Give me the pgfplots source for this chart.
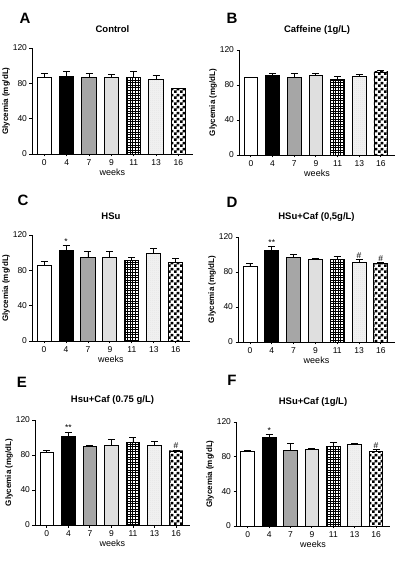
\documentclass[border=0pt]{standalone}
\usepackage{fontspec}
\setmainfont{Liberation Sans}
\usepackage{pgfplots}
\usepackage{pgfplotstable}
\pgfplotsset{compat=1.18}
\usetikzlibrary{patterns}

\pgfdeclarepatternformonly{finecheck}{\pgfqpoint{0pt}{0pt}}{\pgfqpoint{6pt}{6pt}}{\pgfqpoint{6pt}{6pt}}{%
  \pgfpathrectangle{\pgfqpoint{0pt}{0pt}}{\pgfqpoint{3pt}{3pt}}%
  \pgfpathrectangle{\pgfqpoint{3pt}{3pt}}{\pgfqpoint{3pt}{3pt}}%
  \pgfusepath{fill}}
\pgfdeclarepatternformonly{finegrid}{\pgfqpoint{-1pt}{-1pt}}{\pgfqpoint{3.5pt}{3.5pt}}{\pgfqpoint{2.6pt}{2.6pt}}{%
  \pgfsetlinewidth{0.6pt}%
  \pgfpathmoveto{\pgfqpoint{-0.5pt}{0pt}}\pgfpathlineto{\pgfqpoint{3.1pt}{0pt}}%
  \pgfpathmoveto{\pgfqpoint{0pt}{-0.5pt}}\pgfpathlineto{\pgfqpoint{0pt}{3.1pt}}%
  \pgfusepath{stroke}}
\pgfdeclarepatternformonly{finedots}{\pgfqpoint{-0.5pt}{-0.5pt}}{\pgfqpoint{2.5pt}{2.5pt}}{\pgfqpoint{2pt}{2pt}}{%
  \pgfpathcircle{\pgfqpoint{0pt}{0pt}}{0.45pt}%
  \pgfpathcircle{\pgfqpoint{1pt}{1pt}}{0.45pt}%
  \pgfusepath{fill}}

% columns: x (category index), y (mean), e (upper SEM)
\pgfplotstableread{
x y e
0 86.9 4.5
1 87.6 5.7
2 86.1 4.6
3 86.9 2.6
4 86.5 6.8
5 84.6 4.5
6 73.9 0.8
}\tblA
\pgfplotstableread{
x y e
0 88.4 0.5
1 90.7 3.0
2 88.4 4.6
3 91.0 2.3
4 86.1 3.4
5 89.5 2.3
6 94.9 1.9
}\tblB
\pgfplotstableread{
x y e
0 85.7 4.1
1 102.6 5.7
2 94.3 6.8
3 95.1 6.8
4 91.3 3.4
5 98.9 5.7
6 89.4 4.2
}\tblC
\pgfplotstableread{
x y e
0 86.5 3.0
1 104.8 4.5
2 96.4 3.4
3 94.1 1.1
4 94.1 4.2
5 91.4 3.0
6 89.5 1.2
}\tblD
\pgfplotstableread{
x y e
0 82.7 3.0
1 101.7 4.6
2 89.9 1.1
3 90.7 6.8
4 94.5 5.7
5 91.0 4.6
6 84.6 1.1
}\tblE
\pgfplotstableread{
x y e
0 85.7 1.9
1 102.1 3.8
2 86.9 8.7
3 88.4 1.5
4 92.2 3.8
5 94.5 0.7
6 86.5 1.9
}\tblF

\pgfplotsset{
  b0/.style={fill=white, restrict x to domain=-0.2:0.2},
  b1/.style={fill=black, restrict x to domain=0.8:1.2},
  b2/.style={fill=gray!70, restrict x to domain=1.8:2.2},
  b3/.style={fill=gray!25, restrict x to domain=2.8:3.2},
  b4/.style={pattern=finegrid, pattern color=black, restrict x to domain=3.8:4.2},
  b5/.style={pattern=finedots, pattern color=gray!75, restrict x to domain=4.8:5.2},
  b6/.style={pattern=finecheck, pattern color=black, restrict x to domain=5.8:6.2},
  barbase/.style={ybar, bar width=0.64, bar shift=0pt, draw=black, line width=0.9pt,
    error bars/y dir=plus, error bars/y explicit,
    error bars/error bar style={black, line width=0.9pt},
    error bars/error mark options={black, rotate=90, mark size=3.5pt, line width=0.9pt}},
  panel/.style={
    scale only axis, anchor=south west,
    xmin=-0.55, xmax=6.65, ymin=0, ymax=120,
    axis x line*=bottom, axis y line*=left,
    axis line style={-, line width=0.9pt},
    ytick={0,40,80,120},
    xtick={0,1,2,3,4,5,6},
    xticklabels={0,4,7,9,11,13,16},
    /pgf/number format/assume math mode=true,
    tick align=outside, major tick length=2.5pt,
    tick style={black, line width=0.9pt},
    yticklabel style={font=\fontsize{8.5}{9}\selectfont, xshift=1pt},
    xticklabel style={font=\fontsize{8.5}{9}\selectfont},
    xlabel={weeks}, xlabel style={font=\fontsize{9}{10}\selectfont, yshift=4pt},
    ylabel={Glycemia (mg/dL)}, ylabel style={font=\bfseries\fontsize{8}{9}\selectfont, yshift=-4pt},
    title style={font=\bfseries\fontsize{9.5}{10}\selectfont, yshift=6pt},
    clip=false,
  },
}

\newcommand{\bars}[1]{%
  \addplot[barbase, b0] table[x=x, y=y, y error=e] {#1};
  \addplot[barbase, b1] table[x=x, y=y, y error=e] {#1};
  \addplot[barbase, b2] table[x=x, y=y, y error=e] {#1};
  \addplot[barbase, b3] table[x=x, y=y, y error=e] {#1};
  \addplot[barbase, b4] table[x=x, y=y, y error=e] {#1};
  \addplot[barbase, b5] table[x=x, y=y, y error=e] {#1};
  \addplot[barbase, b6] table[x=x, y=y, y error=e] {#1};
}

\begin{document}
\begin{tikzpicture}
\useasboundingbox (0pt,0pt) rectangle (399pt,561pt);
\tikzset{letter/.style={font=\bfseries\fontsize{15}{16}\selectfont, anchor=center},
         star/.style={font=\fontsize{8.5}{9}\selectfont, anchor=south, inner sep=0.5pt}}

% A
\begin{axis}[panel, at={(32pt,407pt)}, width=161pt, height=106pt, title={Control}]
\bars{\tblA}
\end{axis}
\node[letter] at (25pt,543pt) {A};

% B
\begin{axis}[panel, at={(239pt,406pt)}, width=156pt, height=105pt, title={Caffeine (1g/L)}]
\bars{\tblB}
\end{axis}
\node[letter] at (232pt,543pt) {B};

% C
\begin{axis}[panel, at={(32pt,220pt)}, width=158pt, height=106pt, title={HSu}]
\bars{\tblC}
\node[star] at (axis cs:1,108.8) {*};
\end{axis}
\node[letter] at (23pt,361pt) {C};

% D
\begin{axis}[panel, at={(238pt,219pt)}, width=157pt, height=105pt, title={HSu+Caf (0,5g/L)}]
\bars{\tblD}
\node[star] at (axis cs:1,109.8) {**};
\node[star] at (axis cs:5,95.0) {\#};
\node[star] at (axis cs:6,91.2) {\#};
\end{axis}
\node[letter] at (232pt,359pt) {D};

% E
\begin{axis}[panel, at={(35pt,36pt)}, width=155pt, height=105pt, title={Hsu+Caf (0.75 g/L)}]
\bars{\tblE}
\node[star] at (axis cs:1,106.8) {**};
\node[star] at (axis cs:6,86.2) {\#};
\end{axis}
\node[letter] at (22pt,179pt) {E};

% F
\begin{axis}[panel, at={(236pt,35pt)}, width=154pt, height=104pt, title={HSu+Caf (1g/L)}]
\bars{\tblF}
\node[star] at (axis cs:1,106.4) {*};
\node[star] at (axis cs:6,88.9) {\#};
\end{axis}
\node[letter] at (232pt,181pt) {F};
\end{tikzpicture}
\end{document}
